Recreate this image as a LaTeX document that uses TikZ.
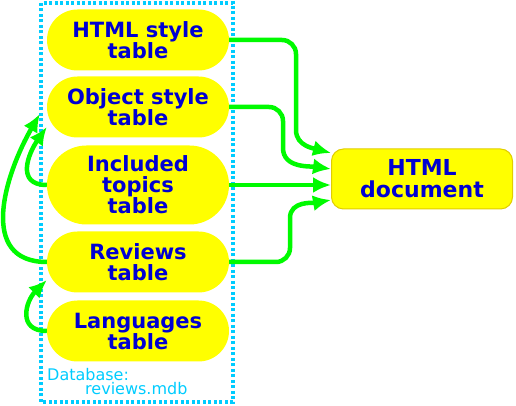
\documentclass[tikz,border=0pt]{standalone}
\usepackage{fontspec}
\setmainfont{DejaVu Sans}
\usetikzlibrary{shapes.misc,arrows.meta}
\definecolor{tblyellow}{RGB}{255,255,0}
\definecolor{docrim}{RGB}{225,205,0}
\definecolor{txtblue}{RGB}{0,0,210}
\definecolor{arrgreen}{RGB}{0,250,0}
\definecolor{dbcyan}{RGB}{0,204,255}
\begin{document}
\begin{tikzpicture}[x=1pt,y=1pt]
                    \tikzstyle{tbl}=[rounded rectangle,fill=tblyellow,text=txtblue,font=\bfseries\fontsize{21}{21}\selectfont,align=center,minimum width=182pt,minimum height=61pt,inner sep=0pt]
                    \tikzstyle{doc}=[rectangle,rounded corners=12pt,fill=tblyellow,draw=docrim,line width=1pt,text=txtblue,font=\bfseries\fontsize{22}{22}\selectfont,align=center,minimum width=181pt,minimum height=60pt,inner sep=0pt]
                    \tikzstyle{link}=[arrgreen,line width=4.5pt,-{Latex[length=18pt,width=16pt]}]
                    \tikzstyle{dbbox}=[dbcyan,line width=4pt,dash pattern=on 3pt off 2.5pt]
                    \tikzstyle{dbtext}=[dbcyan,anchor=base west,inner sep=0pt,font=\fontsize{16}{16}\selectfont]

                    \useasboundingbox (0,0) rectangle (516,406);
                    \draw [dbbox] (41,4) rectangle (233,403);

                    \node (html) at (138,366) [tbl] {HTML style\\table};
                    \node (obj) at (138,299) [tbl] {Object style\\table};
                    \node (inc) at (138,221) [tbl,minimum height=79pt] {Included\\topics\\table};
                    \node (rev) at (138,144) [tbl] {Reviews\\table};
                    \node (lang) at (138,75) [tbl] {Languages\\table};

                    \node (dbname) at (47,25) [dbtext] {Database:};
                    \node (dbfile) at (85,11) [dbtext] {reviews.mdb};

                    \node (doc) at (422,227) [doc] {HTML\\document};

                    \draw [link] (html.east) -- (282,366) to [out=0,in=90] (296,352) -- (296,276) to [out=-90,in=165] ([yshift=26pt]doc.west);
                    \draw [link] (obj.east) -- (269,299) to [out=0,in=90] (283,285) -- (283,258) to [out=-90,in=172] ([yshift=10pt]doc.west);
                    \draw [link] (inc.east) -- (inc.east -| doc.west);
                    \draw [link] (rev.east) -- (276,144) to [out=0,in=-90] (290,158) -- (290,188) to [out=90,in=190] ([yshift=-21pt]doc.west);

                    \draw [link] (inc.west) to [out=180,in=235,looseness=1.4] ([yshift=-20pt]obj.west);
                    \draw [link] (rev.west) to [out=180,in=240,looseness=1.2] ([xshift=-7pt,yshift=-7pt]obj.west);
                    \draw [link] (lang.west) to [out=180,in=225,looseness=1.5] ([yshift=-18pt]rev.west);
                \end{tikzpicture}
\end{document}
